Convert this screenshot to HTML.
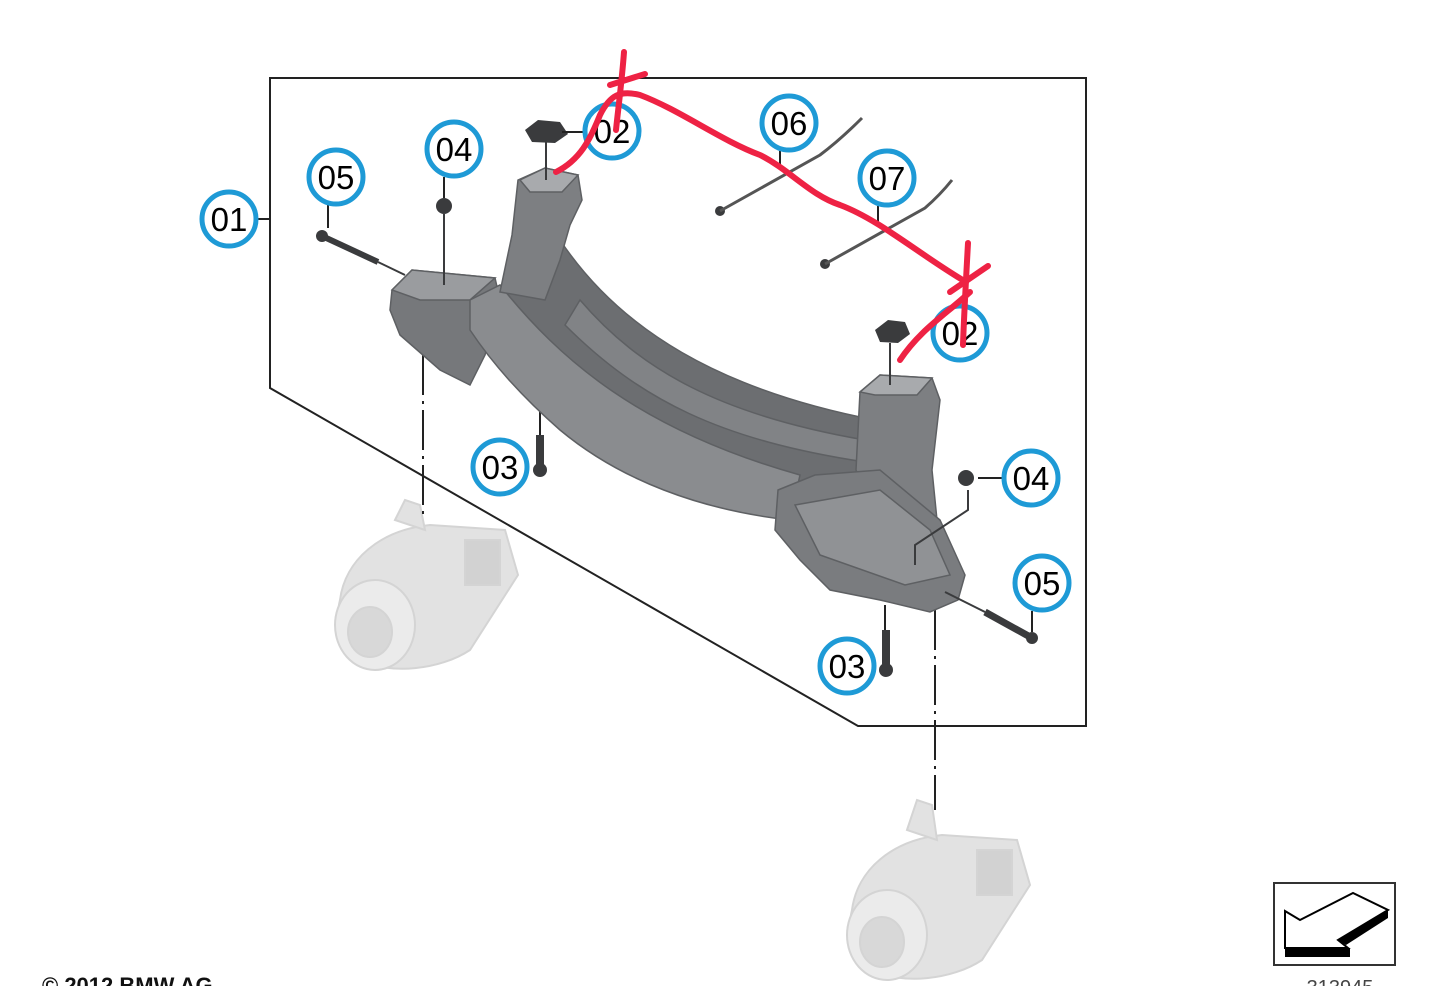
<!DOCTYPE html>
<html><head><meta charset="utf-8"><style>
html,body{margin:0;padding:0;background:#fff;}
svg{display:block}
text{font-family:"Liberation Sans",sans-serif;}
</style></head><body>
<svg width="1440" height="986" viewBox="0 0 1440 986" xmlns="http://www.w3.org/2000/svg">
<rect width="1440" height="986" fill="#fff"/>
<polygon points="270,78 1086,78 1086,726 858,726 270,388" fill="none" stroke="#222" stroke-width="2"/>

<!-- lamps -->
<g fill="#e2e2e2" stroke="#d4d4d4" stroke-width="2">
<path d="M340,600 C345,560 380,530 430,525 L505,530 L518,575 L470,650 C440,670 390,675 360,660 C340,645 335,620 340,600 Z"/>
<path d="M395,520 L405,500 L420,505 L425,530 Z"/>
<ellipse cx="375" cy="625" rx="40" ry="45" fill="#ebebeb"/>
<ellipse cx="370" cy="632" rx="22" ry="25" fill="#d8d8d8"/>
<rect x="465" y="540" width="35" height="45" fill="#d2d2d2"/>
</g>
<g fill="#e2e2e2" stroke="#d4d4d4" stroke-width="2">
<path d="M852,910 C857,870 892,840 942,835 L1017,840 L1030,885 L982,960 C952,980 902,985 872,970 C852,955 847,930 852,910 Z"/>
<path d="M907,830 L917,800 L932,805 L937,840 Z"/>
<ellipse cx="887" cy="935" rx="40" ry="45" fill="#ebebeb"/>
<ellipse cx="882" cy="942" rx="22" ry="25" fill="#d8d8d8"/>
<rect x="977" y="850" width="35" height="45" fill="#d2d2d2"/>
</g>

<g stroke="#222" stroke-width="2" fill="none" stroke-dasharray="40,6,3,6">
<line x1="423" y1="355" x2="423" y2="520"/>
<line x1="935" y1="610" x2="935" y2="810"/>
<line x1="540" y1="405" x2="540" y2="440"/>
<line x1="885" y1="605" x2="885" y2="640"/>
</g>

<!-- bracket -->
<g stroke="#5e6063" stroke-width="1.5">
<polygon points="392,290 412,270 495,278 500,300 485,355 470,385 440,370 400,335 390,310" fill="#76787b"/>
<polygon points="392,290 412,270 495,278 470,300 420,300" fill="#9a9c9f"/>
<path d="M505,290 L560,240 C620,330 720,390 875,420 L865,505 C720,480 620,430 545,350 Z" fill="#6c6e71"/>
<path d="M580,300 C640,370 720,415 865,440 L865,462 C720,440 640,400 565,325 Z" fill="#818386"/>
<path d="M470,300 L500,285 C560,360 640,430 800,475 L790,520 C700,510 620,480 560,430 C520,395 490,360 470,330 Z" fill="#8a8c8f"/>
<polygon points="518,180 545,168 578,175 582,200 570,225 560,260 545,300 500,292 512,235" fill="#7d7f82"/>
<polygon points="520,180 545,168 578,175 562,192 530,192" fill="#a8aaad"/>
<polygon points="860,392 880,375 932,378 940,400 932,470 937,520 878,520 856,470" fill="#7d7f82"/>
<polygon points="860,392 880,375 932,378 917,395 875,395" fill="#a8aaad"/>
<polygon points="778,490 815,475 880,470 940,520 965,575 958,600 930,612 880,600 830,590 800,560 775,530" fill="#7a7c7f"/>
<polygon points="795,505 880,490 930,530 950,575 905,585 820,555" fill="#909295"/>
</g>

<g fill="#3a3b3d">
<path d="M525,130 L538,120 L560,122 L568,134 L555,143 L532,142 Z"/>
<path d="M875,330 L888,320 L905,322 L910,334 L898,343 L880,342 Z"/>
<circle cx="444" cy="206" r="8"/>
<circle cx="966" cy="478" r="8"/>
<circle cx="540" cy="470" r="7"/><rect x="536" y="435" width="8" height="35"/>
<circle cx="886" cy="670" r="7"/><rect x="882" y="630" width="8" height="40"/>
<circle cx="322" cy="236" r="6"/>
<circle cx="1032" cy="638" r="6"/>
<circle cx="720" cy="211" r="5"/><circle cx="825" cy="264" r="5"/>
</g>
<g stroke="#3a3b3d" fill="none">
<line x1="322" y1="236" x2="378" y2="262" stroke-width="6"/>
<line x1="378" y1="262" x2="405" y2="275" stroke-width="2"/>
<line x1="985" y1="612" x2="1032" y2="638" stroke-width="7"/>
<line x1="945" y1="592" x2="985" y2="612" stroke-width="2"/>
<path d="M720,211 L820,155 C840,140 855,125 862,118" stroke-width="3" stroke="#555"/>
<path d="M825,264 L925,208 C940,195 948,185 952,180" stroke-width="3" stroke="#555"/>
<line x1="546" y1="142" x2="546" y2="180" stroke-width="2"/>
<line x1="890" y1="343" x2="890" y2="385" stroke-width="2"/>
<line x1="444" y1="214" x2="444" y2="285" stroke-width="2"/>
<path d="M968,490 L968,510 L915,545 L915,565" stroke-width="2"/>
</g>

<g stroke="#222" stroke-width="2">
<line x1="257" y1="219" x2="270" y2="219"/>
<line x1="328" y1="205" x2="328" y2="228"/>
<line x1="444" y1="177" x2="444" y2="198"/>
<line x1="562" y1="132" x2="584" y2="132"/>
<line x1="780" y1="151" x2="780" y2="170"/>
<line x1="878" y1="206" x2="878" y2="222"/>
<line x1="978" y1="478" x2="1003" y2="478"/>
<line x1="1032" y1="611" x2="1032" y2="632"/>
</g>

<g fill="#fff" stroke="#1e9ad6" stroke-width="5">
<circle cx="229" cy="219" r="27"/>
<circle cx="336" cy="177" r="27"/>
<circle cx="454" cy="149" r="27"/>
<circle cx="612" cy="131" r="27"/>
<circle cx="789" cy="123" r="27"/>
<circle cx="887" cy="178" r="27"/>
<circle cx="960" cy="333" r="27"/>
<circle cx="500" cy="467" r="27"/>
<circle cx="1031" cy="478" r="27"/>
<circle cx="1042" cy="583" r="27"/>
<circle cx="847" cy="666" r="27"/>
</g>
<g font-size="33" text-anchor="middle" fill="#000">
<text x="229" y="231">01</text>
<text x="336" y="189">05</text>
<text x="454" y="161">04</text>
<text x="612" y="143">02</text>
<text x="789" y="135">06</text>
<text x="887" y="190">07</text>
<text x="960" y="345">02</text>
<text x="500" y="479">03</text>
<text x="1031" y="490">04</text>
<text x="1042" y="595">05</text>
<text x="847" y="678">03</text>
</g>

<g stroke="#ee2244" stroke-width="6" fill="none" stroke-linecap="round" stroke-linejoin="round">
<path d="M624,52 C622,80 618,110 616,130"/>
<path d="M610,85 L645,74"/>
<path d="M556,172 C580,160 590,140 600,115 C610,95 620,90 640,95 C680,110 720,140 760,155 C790,170 810,195 840,205 C880,220 920,255 966,282"/>
<path d="M968,243 C966,280 964,315 963,345"/>
<path d="M950,292 L988,266"/>
<path d="M900,360 C920,330 945,315 970,292"/>
</g>

<rect x="1274" y="883" width="121" height="82" fill="#fff" stroke="#333" stroke-width="2"/>
<polygon points="1285,911 1300,920 1353,893 1388,910 1338,940 1348,948 1285,948" fill="#fff" stroke="#000" stroke-width="2"/>
<polygon points="1388,910 1388,918 1346,945 1338,940" fill="#000"/>
<rect x="1285" y="948" width="65" height="9" fill="#000"/>

<text x="1340" y="994" font-size="20" text-anchor="middle" fill="#444">313945</text>
<text x="42" y="993" font-size="22" font-weight="bold" fill="#111">© 2012 BMW AG</text>
</svg>
</body></html>
